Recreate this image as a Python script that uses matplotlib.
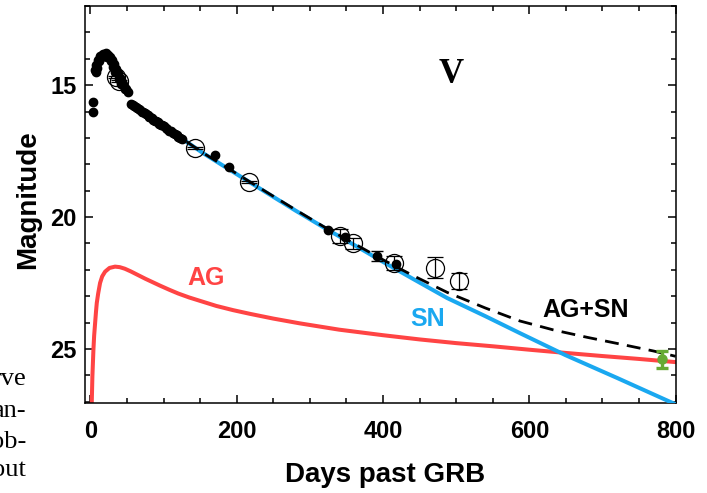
import matplotlib
matplotlib.use('Agg')
from matplotlib import pyplot as plt
from matplotlib.ticker import MultipleLocator

plt.rcParams['font.family'] = ['Liberation Sans', 'DejaVu Sans']
plt.rcParams['font.weight'] = 'bold'

# model curves
ag_days = [1.5, 2.6, 4.0, 5, 6.3, 7.5, 8.6, 10.5, 13.1, 16, 20, 26, 33.6, 40, 47, 55, 65,
           75, 85, 95, 108, 120, 135, 150, 172, 195, 218, 250, 286, 340, 400, 450, 500,
           550, 600, 649, 700, 750, 800]
ag_mag = [27.3, 26.05, 25.04, 24.5, 24.03, 23.6, 23.26, 22.9, 22.5, 22.25, 22.07, 21.93,
          21.88, 21.9, 21.96, 22.06, 22.2, 22.34, 22.47, 22.6, 22.76, 22.9, 23.05, 23.18,
          23.37, 23.53, 23.67, 23.85, 24.03, 24.27, 24.48, 24.64, 24.78, 24.9, 25.03,
          25.15, 25.27, 25.38, 25.5]

sn_days = [56.5, 100, 154, 217, 241, 280, 318, 360, 400, 440, 487.6, 540, 587, 649, 720,
           796, 800]
sn_mag = [15.72, 16.55, 17.58, 18.67, 19.08, 19.75, 20.38, 21.05, 21.7, 22.33, 23.07,
          23.76, 24.4, 25.23, 26.1, 27.05, 27.1]

tot_days = [56.5, 100, 154, 217, 241, 280, 318, 360, 400, 441, 488, 540, 587, 633, 679,
            725, 770, 800]
tot_mag = [15.72, 16.55, 17.57, 18.65, 19.06, 19.72, 20.35, 21.0, 21.62, 22.22, 22.86,
           23.45, 23.94, 24.28, 24.56, 24.82, 25.08, 25.28]

# filled points
dot_days = [3.6, 3.6, 6.3, 7.7, 8, 9, 10.4, 12, 13.1, 15, 17.2, 19, 21.3, 23, 24.1, 26.8,
            28, 29.5, 31, 32.3, 34, 35, 37.7, 39, 40.5, 42, 43.2, 45.9, 47, 48.7, 51.4,
            56, 58, 60, 62, 64, 66, 68, 70, 72, 74, 76, 78, 80, 82, 84, 86, 88, 90, 92,
            94, 96, 98, 100, 103, 105, 108, 110, 113, 115, 118, 120, 123, 125,
            170, 190, 325, 348, 418]
dot_mag = [15.64, 16.02, 14.43, 14.24, 14.5, 14.35, 14.05, 14.1, 13.9, 13.95, 13.83, 13.9,
           13.79, 13.95, 13.86, 13.94, 14.1, 14.05, 14.3, 14.2, 14.5, 14.39, 14.55, 14.75,
           14.73, 14.95, 14.89, 15.04, 15.15, 15.15, 15.27,
           15.72, 15.74, 15.8, 15.84, 15.88, 15.9, 15.95, 16.0, 16.03, 16.05, 16.1, 16.15,
           16.2, 16.22, 16.25, 16.32, 16.35, 16.37, 16.4, 16.46, 16.5, 16.52, 16.55,
           16.62, 16.68, 16.72, 16.75, 16.82, 16.85, 16.9, 16.95, 17.0, 17.05,
           17.65, 18.09, 20.49, 20.76, 21.78]

err_dot_days = [392]
err_dot_mag = [21.48]
err_dot_err = [0.2]

# open circles
circ_days = [35, 39, 143, 217, 341, 359, 415, 471, 504]
circ_mag = [14.7, 14.85, 17.39, 18.67, 20.72, 21.0, 21.74, 21.93, 22.42]
circ_err = [0.03, 0.03, 0.03, 0.03, 0.25, 0.2, 0.28, 0.4, 0.3]

late_days = [781]
late_mag = [25.39]
late_err = [0.33]

fig = plt.figure(figsize=(7.07, 4.93), dpi=100)
ax = fig.add_axes([85 / 707, 1 - 403 / 493, (675.6 - 85) / 707, (403 - 6) / 493])

ax.plot(ag_days, ag_mag, color='#ff4444', lw=2.9, zorder=2, solid_joinstyle='round')
ax.plot(sn_days, sn_mag, color='#1aa8f0', lw=2.9, zorder=3, solid_joinstyle='round')
ax.plot(tot_days, tot_mag, color='black', lw=2.0, ls=(0, (5, 3)), zorder=4)

ax.plot(dot_days, dot_mag, 'o', color='black', ms=6, zorder=5)
ax.errorbar(err_dot_days, err_dot_mag, yerr=err_dot_err, fmt='o', color='black', ms=6,
            capsize=4, elinewidth=1, capthick=1, zorder=5)
ax.errorbar(circ_days, circ_mag, yerr=circ_err, fmt='o', mfc='none', mec='black', ms=13,
            mew=0.9, ecolor='black', capsize=6, elinewidth=0.9, capthick=0.9, zorder=6)
ax.errorbar(late_days, late_mag, yerr=late_err, fmt='o', color='#66aa33', ms=6.5,
            capsize=4.5, elinewidth=2.4, capthick=2.4, zorder=6)

ax.text(493, 14.6, 'V', family=['Liberation Serif', 'DejaVu Serif'], fontsize=25,
        fontweight='bold', ha='center', va='center')
ax.text(157.6, 22.3, 'AG', color='#ff4444', fontsize=18, ha='center', va='center')
ax.text(461.6, 23.86, 'SN', color='#1aa8f0', fontsize=18, ha='center', va='center')
ax.text(677, 23.52, 'AG+SN', color='black', fontsize=18, ha='center', va='center')

ax.set_xlim(-7.5, 800)
ax.set_ylim(27.05, 12.0)
ax.xaxis.set_major_locator(MultipleLocator(200))
ax.xaxis.set_minor_locator(MultipleLocator(50))
ax.yaxis.set_major_locator(MultipleLocator(5))
ax.yaxis.set_minor_locator(MultipleLocator(1))
ax.tick_params(which='both', direction='in', top=True, right=True, width=1.1)
ax.tick_params(which='major', length=6)
ax.tick_params(which='minor', length=3.5)
ax.tick_params(axis='both', labelsize=17)
ax.tick_params(axis='x', pad=12)
ax.tick_params(axis='y', pad=6)
for lab in ax.get_xticklabels() + ax.get_yticklabels():
    lab.set_fontweight('bold')
for sp in ax.spines.values():
    sp.set_linewidth(1.1)

fig.text(28 / 707, 1 - 200 / 493, 'Magnitude', rotation=90, fontsize=20,
         ha='center', va='center')
fig.text(385 / 707, 1 - 475 / 493, 'Days past GRB', fontsize=20, ha='center', va='center')

# cropped text of the neighbouring column, cut at the left edge as in the source
side_lines = ['rve', 'an-', 'ob-', 'out']
side_base = [385, 417, 448, 476]
for s, yb in zip(side_lines, side_base):
    fig.text(26 / 707, 1 - yb / 493, s, family=['Liberation Serif', 'DejaVu Serif'],
             fontsize=19, fontweight='normal', ha='right', va='baseline')

fig.savefig('out.png', dpi=100)
